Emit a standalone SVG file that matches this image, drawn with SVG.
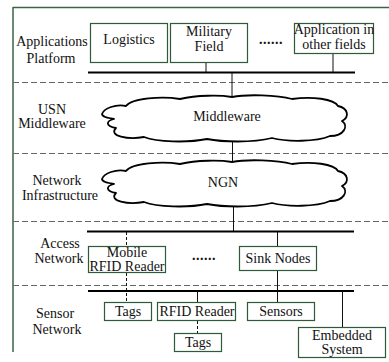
<svg xmlns="http://www.w3.org/2000/svg" width="389" height="362" viewBox="0 0 389 362">
  <style>
    text { font-family: "Liberation Serif", "Times New Roman", serif; font-size: 14px; fill: #111; text-anchor: middle; }
    .box { fill: #fff; stroke: #2f5a3a; stroke-width: 1.2; }
    .bus { stroke: #000; stroke-width: 2.2; fill: none; }
    .link { stroke: #111; stroke-width: 1; fill: none; }
    .dlink { stroke: #111; stroke-width: 1; fill: none; stroke-dasharray: 3 2; }
    .sep { stroke: #666; stroke-width: 1; stroke-dasharray: 6 3; fill: none; }
    .frame { stroke: #3d6346; stroke-width: 1.5; fill: none; }
    .cloud { fill: #fff; stroke: #000; stroke-width: 1.8; stroke-linejoin: round; }
    .dots { font-weight: bold; letter-spacing: 0.5px; }
  </style>
  <defs>
    <!-- cloud outline, 246 x 46 -->
    <path id="cloud-shape" d="M0 19
      C2 13, 14 9, 24 11
      C30 3, 60 1, 78 4
      C95 0, 118 0, 130 2
      C145 -1, 175 0, 190 4
      C210 1, 232 4, 236 11
      C246 13, 248 22, 240 26
      C247 31, 242 41, 228 41
      C214 47, 185 47, 170 43
      C150 48, 120 47, 105 44
      C85 48, 55 47, 42 42
      C26 45, 6 41, 14 33
      C3 31, 4 26, 12 24
      C6 23, 0 22, 0 19 Z"/>
  </defs>
  <rect width="389" height="362" fill="#fff"/>

  <!-- outer frame -->
  <path class="frame" d="M13 7.5 H389 M13 7 V352"/>

  <!-- layer separators -->
  <g id="separators">
    <line class="sep" x1="13" y1="82.5" x2="389" y2="82.5"/>
    <line class="sep" x1="13" y1="153.5" x2="389" y2="153.5"/>
    <line class="sep" x1="13" y1="221.5" x2="389" y2="221.5"/>
    <line class="sep" x1="13" y1="285.5" x2="389" y2="285.5"/>
  </g>

  <!-- layer names -->
  <g id="layer-labels">
    <text x="52" y="46">Applications</text>
    <text x="51" y="63">Platform</text>
    <text x="52" y="114">USN</text>
    <text x="52" y="128">Middleware</text>
    <text x="57" y="185">Network</text>
    <text x="60" y="200">Infrastructure</text>
    <text x="60" y="248">Access</text>
    <text x="59" y="263">Network</text>
    <text x="55" y="318">Sensor</text>
    <text x="57" y="334">Network</text>
  </g>

  <!-- connectors: buses and links -->
  <g id="connectors">
    <line class="bus" x1="88" y1="72.5" x2="355" y2="72.5"/>
    <line class="link" x1="206" y1="63" x2="206" y2="72"/>
    <line class="link" x1="333" y1="53" x2="333" y2="72"/>
    <line class="link" x1="232" y1="73" x2="232" y2="97"/>
    <line class="link" x1="232.5" y1="141" x2="232.5" y2="162"/>
    <line class="link" x1="233.5" y1="206" x2="233.5" y2="231"/>
    <line class="bus" x1="87" y1="231.5" x2="354" y2="231.5"/>
    <line class="dlink" x1="126.5" y1="232" x2="126.5" y2="246"/>
    <line class="link" x1="277.5" y1="232" x2="277.5" y2="246"/>
    <line class="dlink" x1="126.5" y1="273" x2="126.5" y2="302"/>
    <line class="link" x1="277.5" y1="271" x2="277.5" y2="302"/>
    <line class="bus" x1="88" y1="291" x2="354" y2="291"/>
    <line class="link" x1="197.5" y1="291" x2="197.5" y2="302"/>
    <line class="dlink" x1="197.5" y1="321" x2="197.5" y2="333"/>
    <line class="link" x1="342.5" y1="291" x2="342.5" y2="327"/>
  </g>

  <!-- application nodes -->
  <g id="logistics">
    <rect class="box" x="90.5" y="23.5" width="77" height="39"/>
    <text x="129" y="44">Logistics</text>
  </g>
  <g id="military-field">
    <rect class="box" x="170.5" y="23.5" width="77" height="39"/>
    <text x="209" y="36">Military</text>
    <text x="209" y="51">Field</text>
  </g>
  <text class="dots" x="271" y="44">......</text>
  <g id="other-applications">
    <rect class="box" x="294.5" y="23.5" width="79" height="30"/>
    <text x="334" y="34">Application in</text>
    <text x="334" y="49">other fields</text>
  </g>

  <!-- middleware cloud -->
  <g id="middleware">
    <use href="#cloud-shape" class="cloud" transform="translate(102 95)"/>
    <text x="227" y="121">Middleware</text>
  </g>

  <!-- NGN cloud -->
  <g id="ngn">
    <use href="#cloud-shape" class="cloud" transform="translate(102 160)"/>
    <text x="223" y="187">NGN</text>
  </g>

  <!-- access layer nodes -->
  <g id="mobile-rfid-reader">
    <rect class="box" x="88.5" y="246.5" width="77" height="26"/>
    <text x="127" y="257">Mobile</text>
    <text x="127" y="270.5">RFID Reader</text>
  </g>
  <text class="dots" x="204" y="260">......</text>
  <g id="sink-nodes">
    <rect class="box" x="239.5" y="246.5" width="77" height="24"/>
    <text x="278" y="263">Sink Nodes</text>
  </g>

  <!-- sensor layer nodes -->
  <g id="tags-1">
    <rect class="box" x="104.5" y="302.5" width="47" height="18"/>
    <text x="128" y="316">Tags</text>
  </g>
  <g id="rfid-reader">
    <rect class="box" x="157.5" y="302.5" width="78" height="18"/>
    <text x="197" y="316">RFID Reader</text>
  </g>
  <g id="sensors">
    <rect class="box" x="247.5" y="302.5" width="67" height="18"/>
    <text x="281" y="316">Sensors</text>
  </g>
  <g id="tags-2">
    <rect class="box" x="174.5" y="333.5" width="47" height="18"/>
    <text x="198" y="347">Tags</text>
  </g>
  <g id="embedded-system">
    <rect class="box" x="298.5" y="327.5" width="87" height="30"/>
    <text x="342" y="340">Embedded</text>
    <text x="342" y="354">System</text>
  </g>
</svg>
